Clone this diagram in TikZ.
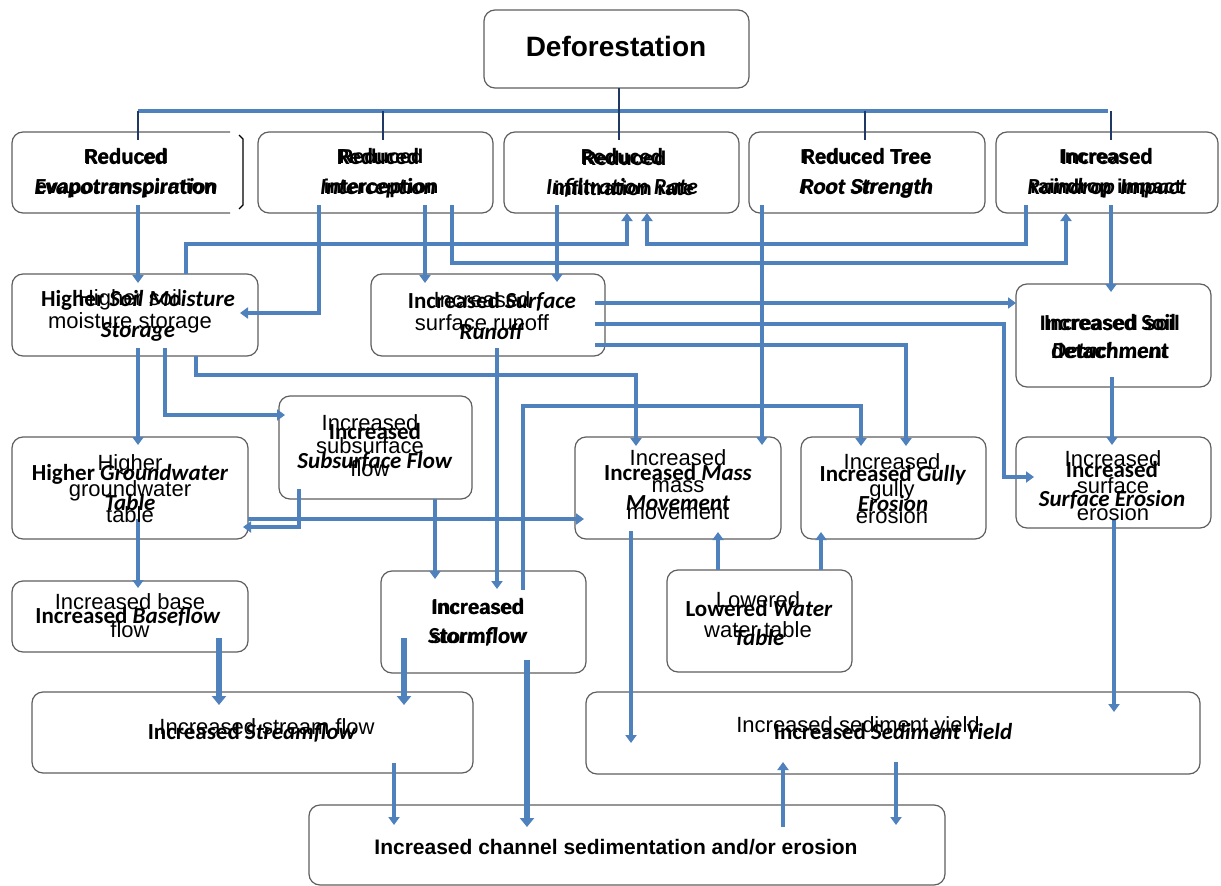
\documentclass[tikz,border=0pt]{standalone}
\usepackage{fontspec}
\setmainfont{Liberation Sans}
\newfontfamily\calib{Carlito}
\usetikzlibrary{arrows.meta}
\definecolor{lnblue}{HTML}{4F81BD}
\definecolor{navy}{HTML}{1F3864}
\definecolor{boxgray}{HTML}{5F5F5F}
\begin{document}
\begin{tikzpicture}[x=1pt,y=-1pt,
 box/.style={draw=boxgray, line width=1.2pt, rounded corners=11pt, fill=white, inner sep=0pt, outer sep=0pt},
 boxline/.style={draw=boxgray, line width=1.2pt, rounded corners=11pt},
 conn/.style={draw=lnblue, line width=3.5pt, -{Triangle[length=8pt,width=11pt]}},
 plain/.style={draw=lnblue, line width=3.5pt},
 thickarrow/.style={draw=lnblue, line width=6pt, -{Triangle[length=9pt,width=14pt]}},
 stub/.style={draw=navy, line width=2.5pt},
 ar/.style={align=center, inner sep=0pt, font=\fontsize{22}{25}\selectfont},
 arb/.style={align=center, inner sep=0pt, font=\bfseries\fontsize{20}{30}\selectfont},
 cb/.style={align=center, inner sep=0pt, font=\calib\bfseries\fontsize{23}{30}\selectfont},
]
\useasboundingbox (0,0) rectangle (1221,886);
\fill[white] (0,0) rectangle (1221,886);

% ---------- boxes ----------
\node[box, minimum width=265pt, minimum height=78pt] (defor) at (616.5,49) {};
\node[draw=none, inner sep=0pt, outer sep=0pt, minimum width=218pt, minimum height=81pt] (evap) at (121,172.5) {};
\draw[boxline] (evap.north east) -- (evap.north west) -- (evap.south west) -- (evap.south east);
\draw[black, line width=1.4pt] ([xshift=9pt,yshift=-3pt]evap.north east) -- ++(4,4) -- ++(0,66) -- ++(-4,4);
\node[box, minimum width=235pt, minimum height=81pt] (interc) at (375.5,172.5) {};
\node[box, minimum width=235pt, minimum height=81pt] (infil) at (621.5,172.5) {};
\node[box, minimum width=236pt, minimum height=81pt] (tree) at (867,172.5) {};
\node[box, minimum width=222pt, minimum height=81pt] (rain) at (1107,172.5) {};

\node[box, minimum width=246pt, minimum height=82pt] (soil) at (135,315) {};
\node[box, minimum width=234pt, minimum height=82pt] (runoff) at (488,315) {};
\node[box, minimum width=195pt, minimum height=103pt] (detach) at (1113.5,335.5) {};

\node[box, minimum width=193pt, minimum height=103pt] (subsurf) at (375.5,447.5) {};
\node[box, minimum width=236pt, minimum height=102pt] (ground) at (130,488) {};
\node[box, minimum width=206pt, minimum height=102pt] (mass) at (678,488) {};
\node[box, minimum width=185pt, minimum height=102pt] (gully) at (893.5,488) {};
\node[box, minimum width=195pt, minimum height=91pt] (surferos) at (1113.5,482.5) {};

\node[box, minimum width=236pt, minimum height=71pt] (base) at (130,616.5) {};
\node[box, minimum width=205pt, minimum height=102pt] (storm) at (483.5,622) {};
\node[box, minimum width=185pt, minimum height=102pt] (lowered) at (759.5,621) {};

\node[box, minimum width=441pt, minimum height=81pt] (stream) at (252.5,732.5) {};
\node[box, minimum width=614pt, minimum height=82pt] (sed) at (893,733) {};
\node[box, minimum width=636pt, minimum height=80pt] (channel) at (627,845) {};

% ---------- tree bus ----------
\coordinate (busL) at (138,111);
\coordinate (busR) at (1108,111);
\draw[plain] (busL) -- (busR);
\draw[stub] (busL) -- ([yshift=-8pt]evap.north -| busL);
\draw[stub] (busL -| 383,0) -- ([yshift=-8pt]interc.north -| 383,0);
\draw[stub] (defor.south -| 619,0) -- ([yshift=-8pt]infil.north -| 619,0);
\draw[stub] (busL -| 865,0) -- ([yshift=-8pt]tree.north -| 865,0);
\draw[stub] (busL -| 1111,0) -- ([yshift=-8pt]rain.north -| 1111,0);

% ---------- connectors ----------
\draw[conn] ([yshift=8pt]evap.south -| busL) -- ([yshift=-9pt]soil.north -| busL);
\draw[conn] ([yshift=8pt]interc.south -| 319,0) |- ([xshift=-18pt]soil.east |- 0,313);
\draw[conn] ([yshift=8pt]interc.south -| 425,0) -- ([yshift=-9pt]runoff.north -| 425,0);
\draw[conn] ([yshift=8pt]interc.south -| 452,0) |- (1066,263) -- (rain.south -| 1066,0);
\draw[conn] (soil.north -| 186,0) |- (627,244) -- (infil.south -| 627,0);
\draw[conn] ([yshift=8pt]rain.south -| 1026,0) |- (647,244) -- (infil.south -| 647,0);
\draw[conn] ([yshift=8pt]infil.south -| 557,0) -- ([yshift=-8pt]runoff.north -| 557,0);
\draw[conn] ([yshift=8pt]tree.south -| 762,0) -- ([yshift=-8pt]mass.north -| 762,0);
\draw[conn] ([yshift=8pt]rain.south -| 1111,0) -- ([yshift=-8pt]detach.north -| 1111,0);
\draw[conn] ([xshift=-10pt]runoff.east |- 0,303) -- (detach.west |- 0,303);
\draw[conn] ([xshift=-10pt]runoff.east |- 0,324) -| (1004,477) -- ([xshift=18pt]surferos.west |- 0,477);
\draw[conn] ([xshift=-10pt]runoff.east |- 0,345) -| ([yshift=-9pt]gully.north -| 906,0);
\draw[conn] ([yshift=8pt]runoff.south -| 497,0) -- ([yshift=-18pt]storm.north -| 497,0);
\draw[conn] (soil.south -| 196,0) |- (636,375) -- ([yshift=-9pt]mass.north -| 636,0);
\draw[conn] ([yshift=8pt]soil.south -| 165,0) |- ([xshift=6pt]subsurf.west |- 0,415);
\draw[conn] ([yshift=8pt]soil.south -| busL) -- ([yshift=-8pt]ground.north -| busL);
\draw[conn] ([yshift=20pt]ground.south -| busL) -- ([yshift=-7pt]base.north -| busL);
\draw[conn] ([yshift=10pt]subsurf.south -| 299,0) |- ([xshift=-5pt]ground.east |- 0,527);
\draw[conn] (ground.east |- 0,519) -- ([xshift=9pt]mass.west |- 0,519);
\draw[conn] (subsurf.south -| 435,0) -- ([yshift=-8pt]storm.north -| 435,0);
\draw[conn] ([yshift=-19pt]storm.north -| 523,0) |- (861,406) -- ([yshift=-9pt]gully.north -| 861,0);
\draw[thickarrow] ([yshift=14pt]base.south -| 219,0) -- ([yshift=-13pt]stream.north -| 219,0);
\draw[thickarrow] ([yshift=35pt]storm.south -| 404,0) -- ([yshift=-13pt]stream.north -| 404,0);
\draw[thickarrow] ([yshift=13pt]storm.south -| 527,0) -- ([yshift=-22pt]channel.north -| 527,0);
\draw[conn] ([yshift=10pt]stream.south -| 394,0) -- ([yshift=-20pt]channel.north -| 394,0);
\draw[conn] ([yshift=8pt]mass.south -| 631,0) -- ([yshift=-51pt]sed.north -| 631,0);
\draw[conn] (lowered.north -| 718,0) -- ([yshift=7pt]mass.south -| 718,0);
\draw[conn] (lowered.north -| 821,0) -- ([yshift=7pt]gully.south -| 821,0);
\draw[conn] ([yshift=8pt]surferos.south -| 1114,0) -- ([yshift=-20pt]sed.north -| 1114,0);
\draw[conn] ([yshift=10pt]detach.south -| 1112,0) -- ([yshift=-8pt]surferos.north -| 1112,0);
\draw[conn] ([yshift=-22pt]channel.north -| 783,0) -- ([yshift=12pt]sed.south -| 783,0);
\draw[conn] ([yshift=12pt]sed.south -| 896,0) -- ([yshift=-20pt]channel.north -| 896,0);

% ---------- texts ----------
\node[inner sep=0pt, font=\bfseries\fontsize{28}{30}\selectfont] (defor-t) at (616,46) {Deforestation};

\node[arb] (evap-a) at (126,173) {Reduced\\evapotranspiration};
\node[cb] (evap-c) at (126,173) {Reduced\\\textit{Evapotranspiration}};
\node[arb] (interc-a) at (381,173) {Reduced\\interception};
\node[cb] (interc-c) at (378,173) {Reduced\\\textit{Interception}};
\node[arb] (infil-a) at (624,173) {Reduced\\infiltration rate};
\node[cb] (infil-c) at (622,173) {Reduced\\\textit{Infiltration Rate}};
\node[arb] (tree-a) at (866,173) {Reduced Tree\\\textit{Root Strength}};
\node[cb] (tree-c) at (867,173) {Reduced Tree\\\textit{Root Strength}};
\node[arb] (rain-a) at (1106,173) {Increased\\raindrop impact};
\node[cb] (rain-c) at (1107,173) {Increased\\\textit{Raindrop Impact}};

\node[ar, font=\fontsize{22}{23}\selectfont] (soil-a) at (130,311.5) {Higher soil\\moisture storage};
\node[cb, font=\calib\bfseries\fontsize{23}{31}\selectfont] (soil-c) at (138,316) {Higher \textit{Soil Moisture}\\\textit{Storage}};
\node[ar, font=\fontsize{22}{23}\selectfont] (runoff-a) at (482,311.5) {Increased\\surface runoff};
\node[cb, font=\calib\bfseries\fontsize{23}{31}\selectfont] (runoff-c) at (492,316) {Increased \textit{Surface}\\\textit{Runoff}};
\node[arb, font=\bfseries\fontsize{21}{28}\selectfont] (detach-a) at (1110,337) {Increased soil\\detachment};
\node[cb, font=\calib\bfseries\fontsize{23}{28}\selectfont] (detach-c) at (1110,337) {Increased Soil\\\textit{Detachment}};

\node[ar, font=\fontsize{22}{23}\selectfont] (subsurf-a) at (370,446) {Increased\\subsurface\\flow};
\node[cb, font=\calib\bfseries\fontsize{23}{29}\selectfont] (subsurf-c) at (375,447) {Increased\\\textit{Subsurface Flow}};
\node[ar, font=\fontsize{22}{26}\selectfont] (ground-a) at (130,489) {Higher\\groundwater\\table};
\node[cb] (ground-c) at (130,488) {Higher \textit{Groundwater}\\\textit{Table}};
\node[ar, font=\fontsize{22}{27}\selectfont] (mass-a) at (678,485) {Increased\\mass\\movement};
\node[cb] (mass-c) at (678,488) {Increased \textit{Mass}\\\textit{Movement}};
\node[ar, font=\fontsize{22}{27}\selectfont] (gully-a) at (892,489) {Increased\\gully\\erosion};
\node[cb] (gully-c) at (893,489) {Increased \textit{Gully}\\\textit{Erosion}};
\node[ar, font=\fontsize{22}{27}\selectfont] (surferos-a) at (1113,486) {Increased\\surface\\erosion};
\node[cb, font=\calib\bfseries\fontsize{23}{29}\selectfont] (surferos-c) at (1112,485) {Increased\\\textit{Surface Erosion}};

\node[ar, font=\fontsize{22}{28}\selectfont] (base-a) at (130,616) {Increased base\\flow};
\node[cb] (base-c) at (128,617) {Increased \textit{Baseflow}};
\node[arb, font=\bfseries\fontsize{20}{29}\selectfont] (storm-a) at (478,622) {Increased\\stormflow};
\node[cb, font=\calib\bfseries\fontsize{23}{29}\selectfont] (storm-c) at (478,622) {Increased\\\textit{Stormflow}};
\node[ar, font=\fontsize{22}{30}\selectfont] (lowered-a) at (758,615) {Lowered\\water table};
\node[cb, font=\calib\bfseries\fontsize{23}{29}\selectfont] (lowered-c) at (759,623) {Lowered \textit{Water}\\\textit{Table}};

\node[ar] (stream-a) at (267,727) {Increased stream flow};
\node[cb] (stream-c) at (252,733) {Increased \textit{Streamflow}};
\node[ar] (sed-a) at (858,727) {Increased sediment yield};
\node[cb] (sed-c) at (893,732) {Increased \textit{Sediment Yield}};
\node[arb, font=\bfseries\fontsize{21}{25}\selectfont] (channel-t) at (616,847) {Increased channel sedimentation and/or erosion};
\end{tikzpicture}
\end{document}
